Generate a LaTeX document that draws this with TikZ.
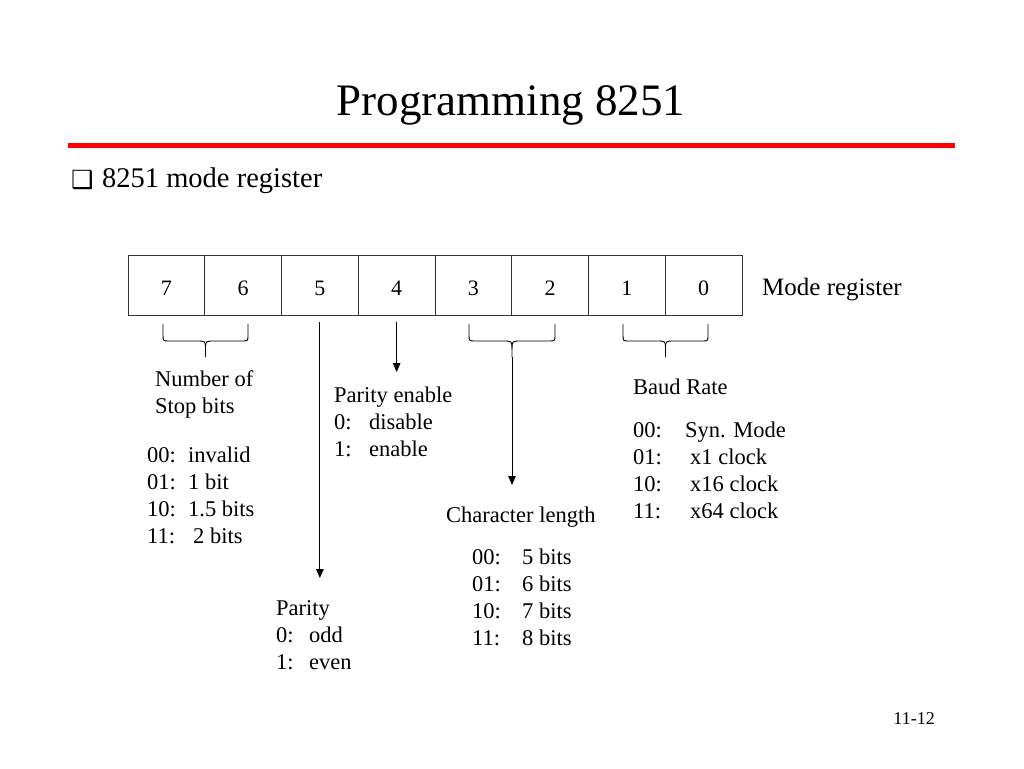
\documentclass[tikz,border=0pt]{standalone}
\usepackage{fontspec}
\setmainfont{Liberation Serif}
\newfontfamily\symfont{DejaVu Sans}
\usetikzlibrary{calc,arrows.meta}

\begin{document}
\begin{tikzpicture}[x=1pt,y=-1pt,
    cell/.style={draw=black!80, line width=0.8pt, minimum width=76.75pt, minimum height=60pt,
      inner sep=0pt, text height=21pt, text depth=0pt, font=\fontsize{22}{26}\selectfont},
    txt/.style={anchor=north west, inner sep=0pt, align=left, font=\fontsize{22.5}{27}\selectfont},
    arr/.style={line width=1pt, -{Triangle[length=9pt,width=7.5pt]}},
    brc/.style={line width=0.9pt}]

    \useasboundingbox (0,0) rectangle (1024,768);

    % draw title and red rule
    \node[inner sep=0pt, anchor=base, font=\fontsize{45}{50}\selectfont] (title) at (511,115) {Programming 8251};
    \draw[red, line width=5pt] (68,145) -- (955,145);

    % draw bullet line
    \node[inner sep=0pt, anchor=base west, font=\symfont\fontsize{25}{30}\selectfont] (bul) at (71,188) {❑};
    \node[inner sep=0pt, anchor=base west, font=\fontsize{28.5}{32}\selectfont] (sub) at (102,187) {8251 mode register};

    % draw register cells
    \foreach \k in {0,...,7}
    {
      \pgfmathtruncatemacro{\b}{7-\k}
      \node[cell] (b\b) at (128+76.75*\k+38.375,285) {\b};
    }
    \node[inner sep=0pt, anchor=base west, font=\fontsize{25}{30}\selectfont] (mreg) at (762,295) {Mode register};

    % draw braces
    \foreach \l/\r in {163/248,469/555,623/708}
    {
      \pgfmathsetmacro{\m}{(\l+\r)/2}
      \draw[brc] (\l,324) -- (\l,335) .. controls (\l,341) .. (\l+6,341) -- (\m-9,341)
        .. controls (\m,341) .. (\m,349) -- (\m,357);
      \draw[brc] (\r,324) -- (\r,335) .. controls (\r,341) .. (\r-6,341) -- (\m+9,341)
        .. controls (\m,341) .. (\m,349);
    }
    \coordinate (t32) at (512,357);

    % draw text blocks
    \node[txt] (stop) at (155,370) {Number of\\Stop bits};
    \node[txt] (stopv) at (147,447) {\makebox[41pt][l]{00:}invalid\\\makebox[41pt][l]{01:}1 bit\\
      \makebox[41pt][l]{10:}1.5 bits\\\makebox[46pt][l]{11:}2 bits};
    \node[txt] (pen) at (334,387) {Parity enable\\\makebox[35pt][l]{0:}disable\\\makebox[35pt][l]{1:}enable};
    \node[txt] (par) at (276,600) {Parity\\\makebox[33pt][l]{0:}odd\\\makebox[33pt][l]{1:}even};
    \node[txt] (clen) at (446,507) {Character length};
    \node[txt] (clenv) at (472,549) {\makebox[50pt][l]{00:}5 bits\\\makebox[50pt][l]{01:}6 bits\\
      \makebox[50pt][l]{10:}7 bits\\\makebox[50pt][l]{11:}8 bits};
    \node[txt] (baud) at (633,379) {Baud Rate};
    \node[txt] (baudv) at (633,422) {\makebox[52pt][l]{00:}Syn. Mode\\\makebox[57pt][l]{01:}x1 clock\\
      \makebox[57pt][l]{10:}x16 clock\\\makebox[57pt][l]{11:}x64 clock};

    % draw arrows
    \draw[arr] ($(b5.south)+(0,7)$) -- ($(b5.south |- par.north)+(0,-22)$);
    \draw[arr] ($(b4.south)+(0,7)$) -- ($(b4.south |- pen.north)+(0,-15)$);
    \draw[arr] (t32) -- ($(t32 |- clen.north)+(0,-22)$);

    % draw page number
    \node[inner sep=0pt, anchor=base east, font=\fontsize{18}{22}\selectfont] (pg) at (935,724) {11-12};

  \end{tikzpicture}
\end{document}
